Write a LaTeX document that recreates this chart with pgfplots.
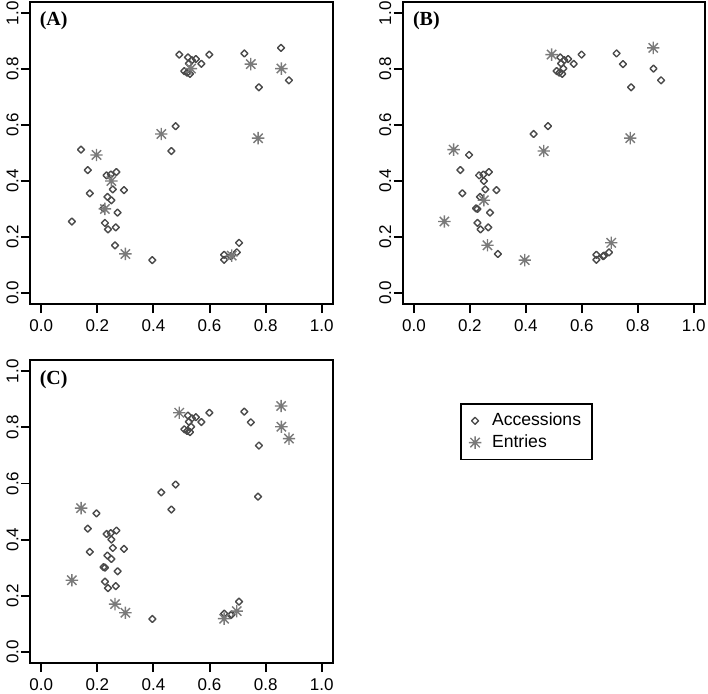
\documentclass[border=0pt]{standalone}
\usepackage{fontspec}
\setmainfont{Liberation Sans}
\newfontfamily\tnr{Liberation Serif}
\usepackage{pgfplots}
\pgfplotsset{compat=1.18}
\definecolor{accg}{HTML}{4A4A4A}
\definecolor{entg}{HTML}{7A7A7A}
\pgfdeclareplotmark{rstar}{%
  \pgfpathmoveto{\pgfqpoint{-\pgfplotmarksize}{0pt}}%
  \pgfpathlineto{\pgfqpoint{\pgfplotmarksize}{0pt}}%
  \pgfpathmoveto{\pgfqpoint{0pt}{-\pgfplotmarksize}}%
  \pgfpathlineto{\pgfqpoint{0pt}{\pgfplotmarksize}}%
  \pgfpathmoveto{\pgfqpoint{-0.75\pgfplotmarksize}{-0.75\pgfplotmarksize}}%
  \pgfpathlineto{\pgfqpoint{0.75\pgfplotmarksize}{0.75\pgfplotmarksize}}%
  \pgfpathmoveto{\pgfqpoint{-0.75\pgfplotmarksize}{0.75\pgfplotmarksize}}%
  \pgfpathlineto{\pgfqpoint{0.75\pgfplotmarksize}{-0.75\pgfplotmarksize}}%
  \pgfusepathqstroke}
\pgfdeclareplotmark{rdiam}{%
  \pgfsetroundjoin
  \pgfpathmoveto{\pgfqpoint{0pt}{\pgfplotmarksize}}%
  \pgfpathlineto{\pgfqpoint{\pgfplotmarksize}{0pt}}%
  \pgfpathlineto{\pgfqpoint{0pt}{-\pgfplotmarksize}}%
  \pgfpathlineto{\pgfqpoint{-\pgfplotmarksize}{0pt}}%
  \pgfpathclose
  \pgfusepathqstroke}
\pgfplotsset{
  rpanel/.style={
    scale only axis,
    anchor=south west,
    xmin=-0.04, xmax=1.04, ymin=-0.04, ymax=1.04,
    axis line style={line width=0.95pt},
    tick style={line width=0.95pt, black},
    tick align=outside,
    major tick length=4.5pt,
    xtick={0,0.2,0.4,0.6,0.8,1.0},
    ytick={0,0.2,0.4,0.6,0.8,1.0},
    xticklabels={0.0,0.2,0.4,0.6,0.8,1.0},
    yticklabels={0.0,0.2,0.4,0.6,0.8,1.0},
    xtick pos=bottom, ytick pos=left,
    ticklabel style={font=\fontsize{8.5}{9}\selectfont},
    yticklabel style={rotate=90, anchor=south, inner sep=1pt},
    clip=false,
    legend image code/.code={\path (-1.5pt,0pt) (6.5pt,0pt); \draw[##1] plot coordinates {(0pt,0pt)};},
  },
  acc/.style={only marks, mark=rdiam, mark size=1.75pt, color=accg, mark options={line width=0.7pt}},
  ent/.style={only marks, mark=rstar, mark size=3.1pt, color=entg, mark options={line width=0.7pt}},
}
\begin{document}
\begin{tikzpicture}
\path[use as bounding box] (0,0) rectangle (354pt,346.5pt);
% ---------------- Panel A
\begin{axis}[rpanel, at={(15pt,194.5pt)}, width=151.5pt, height=151pt]
\addplot[acc] coordinates {
(0.492,0.852) (0.523,0.842) (0.537,0.832) (0.551,0.836) (0.526,0.820)
(0.571,0.819) (0.599,0.852) (0.510,0.793) (0.520,0.787) (0.530,0.783)
(0.724,0.856) (0.855,0.876) (0.883,0.760) (0.776,0.735)
(0.479,0.596) (0.464,0.507) (0.142,0.512) (0.166,0.439) (0.173,0.356)
(0.233,0.420) (0.248,0.423) (0.268,0.432) (0.255,0.370) (0.295,0.367)
(0.236,0.343) (0.250,0.331) (0.222,0.302) (0.272,0.287) (0.109,0.255)
(0.227,0.250) (0.238,0.227) (0.266,0.234) (0.263,0.170) (0.396,0.117)
(0.652,0.136) (0.652,0.118) (0.697,0.145) (0.705,0.179) (0.676,0.131)
};
\addplot[ent] coordinates {
(0.534,0.802) (0.747,0.818) (0.856,0.802) (0.428,0.568) (0.773,0.553)
(0.197,0.493) (0.250,0.400) (0.227,0.300) (0.300,0.139) (0.679,0.133)
};
\node[anchor=north west, inner sep=0pt, font=\fontsize{10}{12}\selectfont\tnr\bfseries] at (rel axis cs:0.031,0.968) {(A)};
\end{axis}
% ---------------- Panel B
\begin{axis}[rpanel, at={(201.35pt,194.5pt)}, width=151.15pt, height=151pt]
\addplot[acc] coordinates {
(0.523,0.842) (0.537,0.832) (0.551,0.836) (0.526,0.820)
(0.571,0.819) (0.599,0.852) (0.510,0.793) (0.520,0.787) (0.530,0.783)
(0.534,0.802) (0.724,0.856) (0.883,0.760) (0.776,0.735) (0.479,0.596)
(0.166,0.439) (0.173,0.356)
(0.233,0.420) (0.248,0.423) (0.268,0.432) (0.255,0.370) (0.295,0.367)
(0.236,0.343) (0.222,0.302) (0.272,0.287)
(0.227,0.250) (0.238,0.227) (0.266,0.234)
(0.652,0.136) (0.652,0.118) (0.697,0.145) (0.676,0.131)
(0.747,0.818) (0.856,0.802) (0.428,0.568)
(0.197,0.493) (0.250,0.400) (0.227,0.300) (0.300,0.139) (0.679,0.133)
};
\addplot[ent] coordinates {
(0.492,0.852) (0.855,0.876) (0.464,0.507) (0.142,0.512) (0.250,0.331)
(0.109,0.255) (0.263,0.170) (0.396,0.117) (0.705,0.179) (0.773,0.553)
};
\node[anchor=north west, inner sep=0pt, font=\fontsize{10}{12}\selectfont\tnr\bfseries] at (rel axis cs:0.033,0.968) {(B)};
\end{axis}
% ---------------- Panel C
\begin{axis}[rpanel, at={(15pt,15pt)}, width=151.5pt, height=151.5pt,
  legend style={at={(rel axis cs:1.419,0.858)}, anchor=north west,
    draw=black, line width=0.95pt, font=\fontsize{8.8}{10}\selectfont,
    inner xsep=4pt, inner ysep=3pt, row sep=0pt,
    nodes={inner sep=1.5pt}},
  legend cell align=left]
\addplot[acc] coordinates {
(0.523,0.842) (0.537,0.832) (0.551,0.836) (0.526,0.820)
(0.571,0.819) (0.599,0.852) (0.510,0.793) (0.520,0.787) (0.530,0.783)
(0.534,0.802) (0.724,0.856) (0.776,0.735) (0.479,0.596) (0.464,0.507)
(0.166,0.439) (0.173,0.356)
(0.233,0.420) (0.248,0.423) (0.268,0.432) (0.255,0.370) (0.295,0.367)
(0.236,0.343) (0.250,0.331) (0.222,0.302) (0.272,0.287)
(0.227,0.250) (0.238,0.227) (0.266,0.234) (0.396,0.117)
(0.652,0.136) (0.705,0.179) (0.676,0.131)
(0.747,0.818) (0.428,0.568) (0.773,0.553)
(0.197,0.493) (0.250,0.400) (0.227,0.300) (0.679,0.133)
};
\addlegendentry{Accessions}
\addplot[ent] coordinates {
(0.492,0.852) (0.855,0.876) (0.883,0.760) (0.142,0.512) (0.109,0.255)
(0.263,0.170) (0.652,0.118) (0.697,0.145) (0.856,0.802) (0.300,0.139)
};
\addlegendentry{Entries}
\node[anchor=north west, inner sep=0pt, font=\fontsize{10}{12}\selectfont\tnr\bfseries] at (rel axis cs:0.031,0.967) {(C)};
\end{axis}
\end{tikzpicture}
\end{document}
